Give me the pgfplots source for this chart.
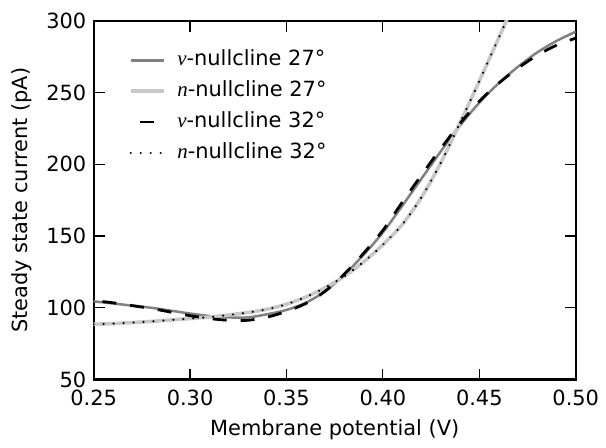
\documentclass[border=0pt]{standalone}
\usepackage{fontspec}
\setmainfont{DejaVu Sans}
\newfontfamily\lserif{Liberation Serif}
\usepackage{pgfplots}
\pgfplotsset{compat=1.18}

\definecolor{vgray}{HTML}{808080}
\definecolor{ngray}{HTML}{C8C8C8}

\pgfplotstableread{
V     I
0.25  104.5
0.26  103
0.27  101.5
0.28  100
0.29  98
0.30  96
0.31  94.3
0.32  93.3
0.33  93.3
0.34  95.5
0.35  98.5
0.36  103.5
0.37  111.5
0.38  123
0.39  137
0.40  152.5
0.41  171
0.42  190
0.43  209
0.44  227
0.45  243
0.46  256.5
0.47  268
0.48  278
0.49  286
0.50  292.5
}\vtwentyseven

\pgfplotstableread{
V      I
0.25   88.5
0.26   89
0.27   89.7
0.28   90.5
0.29   91.5
0.30   92.5
0.31   93.5
0.32   95
0.33   96.7
0.34   99
0.35   102.5
0.36   107.5
0.37   114
0.38   122
0.39   132
0.40   144
0.41   158
0.42   177
0.43   201
0.44   229
0.45   258
0.46   288
0.47   318
}\ntwentyseven

\pgfplotstableread{
V     I
0.25  105
0.26  103.5
0.27  101.5
0.28  99.5
0.29  97
0.30  94.5
0.31  92.5
0.32  91.3
0.33  91.3
0.34  93.5
0.35  97.5
0.36  103
0.37  111.5
0.38  123.5
0.39  138
0.40  154
0.41  173.5
0.42  192.5
0.43  211
0.44  228.5
0.45  244
0.46  256.5
0.47  267
0.48  276
0.49  283
0.50  288
}\vthirtytwo

\begin{document}
\fontsize{10.5}{12.6}\selectfont
\begin{tikzpicture}
\begin{axis}[
  scale only axis,
  width=242pt, height=180pt,
  xmin=0.25, xmax=0.50, ymin=50, ymax=300,
  xtick={0.25,0.30,...,0.50},
  ytick={50,100,...,300},
  xticklabel style={yshift=-1.5pt, /pgf/number format/.cd,fixed,fixed zerofill,precision=2},
  /pgf/number format/assume math mode=true,
  tick label style={font=\fontsize{10.5}{12.6}\selectfont},
  label style={font=\fontsize{10.5}{12.6}\selectfont},
  xlabel={Membrane potential (V)},
  ylabel={Steady state current (pA)},
  axis line style={line width=1.1pt},
  major tick length=5.5pt,
  every tick/.style={black, line width=0.6pt},
  tick pos=both,
  tick align=inside,
  minor tick num=0,
  legend cell align=left,
  legend style={draw=none, fill=none, at={(0.06,0.938)}, anchor=north west,
    font=\fontsize{10.5}{12.6}\selectfont, row sep=2.7pt,
    nodes={inner sep=1.5pt, text height=7.6pt, text depth=2.2pt}},
  legend image code/.code={\draw[#1] (0pt,0pt) -- (16.5pt,0pt); \path (21pt,0pt);},
]
\addplot[vgray, line width=1.25pt, smooth] table[x=V, y=I] {\vtwentyseven};
\addlegendentry{{\lserif\itshape v}-nullcline 27°}
\addplot[ngray, line width=1.8pt, smooth] table[x=V, y=I] {\ntwentyseven};
\addlegendentry{{\lserif\itshape n}-nullcline 27°}
\addplot[black, line width=1.4pt, dash pattern=on 7pt off 7pt, dash phase=-4.5pt, smooth]
  table[x=V, y=I] {\vthirtytwo};
\addlegendentry{{\lserif\itshape v}-nullcline 32°}
\addplot[black, line width=1.2pt, line cap=round, dash pattern=on 0.01pt off 5pt, smooth] table[x=V, y=I] {\ntwentyseven};
\addlegendentry{{\lserif\itshape n}-nullcline 32°}
\end{axis}
\path (current axis.south west) ++(-47pt,-32pt) rectangle ++(303pt,222.5pt);
\end{tikzpicture}
\end{document}
